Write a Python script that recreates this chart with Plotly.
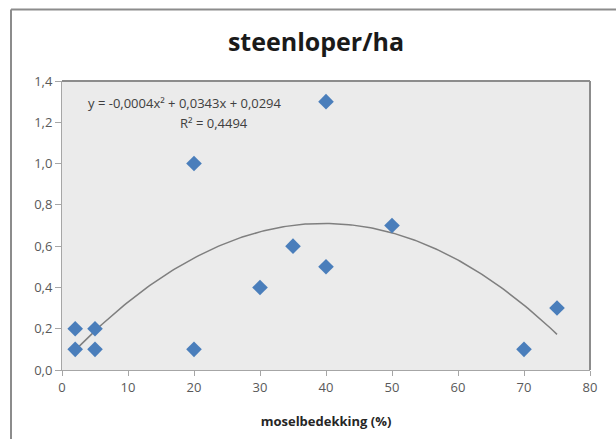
import numpy as np
import plotly.graph_objects as go

# Data
moss_cover = [2, 2, 5, 5, 20, 20, 30, 35, 40, 40, 50, 70, 75]
beetles_per_ha = [0.2, 0.1, 0.2, 0.1, 1.0, 0.1, 0.4, 0.6, 1.3, 0.5, 0.7, 0.1, 0.3]

title_text = "steenloper/ha"
x_title = "moselbedekking (%)"
eq_text = "y = -0,0004x² + 0,0343x + 0,0294"
r2_text = "R² = 0,4494"

x_ticks = [0, 10, 20, 30, 40, 50, 60, 70, 80]
y_ticks = [0.0, 0.2, 0.4, 0.6, 0.8, 1.0, 1.2, 1.4]

# Polynomial (order 2) trendline fitted to the data
coef = np.polyfit(moss_cover, beetles_per_ha, 2)
tx = np.linspace(min(moss_cover), max(moss_cover), 200)
ty = np.polyval(coef, tx)

W, H = 616, 439
ml, mr, mt, mb = 62, 26, 81, 67
pw, ph = W - ml - mr, H - mt - mb

def px(xp):
    return (xp - ml) / pw

def py(yp):
    return 1 - (yp - mt) / ph

fig = go.Figure()
fig.add_trace(go.Scatter(
    x=tx, y=ty, mode="lines",
    line=dict(color="#7f7f7f", width=1.5),
    hoverinfo="skip", showlegend=False,
))
fig.add_trace(go.Scatter(
    x=moss_cover, y=beetles_per_ha, mode="markers",
    marker=dict(symbol="diamond", size=12, color="#4a7ebb",
                line=dict(width=0)),
    showlegend=False,
))

font_fam = "Open Sans, Liberation Sans, sans-serif"

fig.update_layout(
    width=W, height=H,
    margin=dict(l=ml, r=mr, t=mt, b=mb),
    paper_bgcolor="white",
    plot_bgcolor="#ebebeb",
    separators=",.",
    font=dict(family=font_fam, color="#404040", size=12),
    title=dict(text="<b>" + title_text + "</b>", x=0.513, xanchor="center",
               y=1 - 42 / H, yanchor="middle",
               font=dict(size=25, color="#1a1a1a", family=font_fam)),
    xaxis=dict(range=[0, 80], tickvals=x_ticks, showgrid=False, zeroline=False,
               showline=True, linecolor="#a6a6a6", linewidth=1, mirror=False,
               ticks="outside", ticklen=5, tickcolor="#a6a6a6",
               tickfont=dict(size=13, color="#595959"),
               title=dict(text="<b>" + x_title + "</b>", standoff=22,
                          font=dict(size=13, color="#262626"))),
    yaxis=dict(range=[0, 1.4], tickvals=y_ticks, tickformat=".1f",
               showgrid=False, zeroline=False,
               showline=True, linecolor="#a6a6a6", linewidth=1,
               ticks="outside", ticklen=6, tickcolor="#a6a6a6",
               tickfont=dict(size=13, color="#595959")),
    shapes=[
        # plot area frame (top and right)
        dict(type="line", xref="paper", yref="paper", x0=0, x1=1, y0=1, y1=1,
             line=dict(color="#8c8c8c", width=2)),
        dict(type="line", xref="paper", yref="paper", x0=1, x1=1, y0=0, y1=1,
             line=dict(color="#8c8c8c", width=2)),
        # outer chart border
        dict(type="line", xref="paper", yref="paper", x0=px(11), x1=px(620),
             y0=py(9), y1=py(9), line=dict(color="#8c8c8c", width=2)),
        dict(type="line", xref="paper", yref="paper", x0=px(11), x1=px(11),
             y0=py(9), y1=py(445), line=dict(color="#8c8c8c", width=2)),
    ],
    annotations=[
        dict(text=eq_text, xref="paper", yref="paper", x=px(185), y=py(103),
             xanchor="center", yanchor="middle", showarrow=False,
             font=dict(size=13, color="#404040")),
        dict(text=r2_text, xref="paper", yref="paper", x=px(250), y=py(123),
             xanchor="right", yanchor="middle", showarrow=False,
             font=dict(size=13, color="#404040")),
    ],
)

fig.write_html("out.html")
